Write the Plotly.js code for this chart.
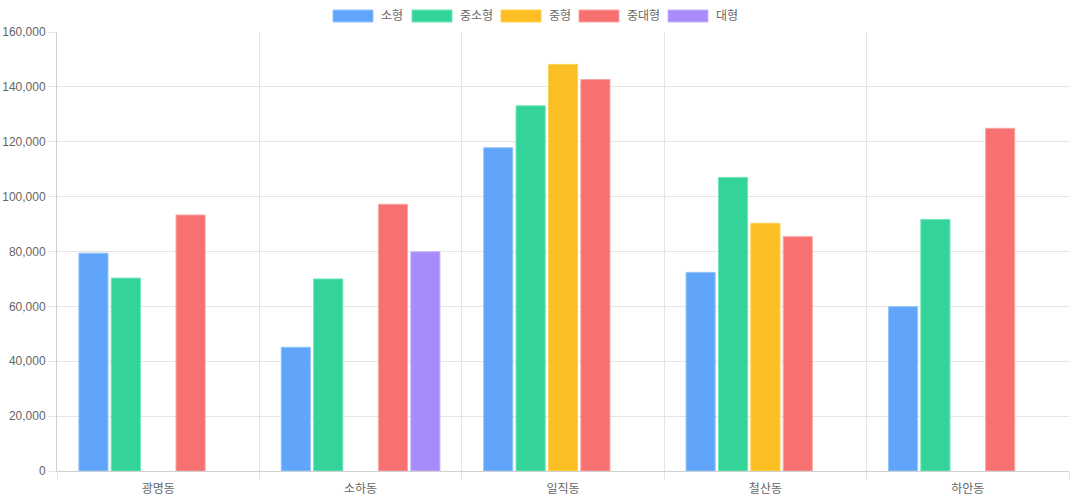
<!DOCTYPE html>
<html>
<head>
<meta charset="utf-8">
<script src="https://cdn.plot.ly/plotly-3.0.1.min.js"></script>
<style>html,body{margin:0;padding:0;background:#fff;}#chart{width:1070px;height:500px;}</style>
</head>
<body>
<div id="chart"></div>
<script>
const categories = ['광명동', '소하동', '일직동', '철산동', '하안동'];
const seriesNames = ['소형', '중소형', '중형', '중대형', '대형'];
const small = [79400, 45100, 117800, 72400, 59900];
const smallMid = [70300, 70000, 133100, 107000, 91700];
const mid = [null, null, 148200, 90300, null];
const midLarge = [93300, 97200, 142700, 85400, 124900];
const large = [null, 79900, null, null, null];
const seriesValues = [small, smallMid, mid, midLarge, large];
const colors = ['#60a5fa', '#34d399', '#fbbf24', '#f87171', '#a78bfa'];
const borderColors = ['#93c5fd', '#6ee7b7', '#fcd34d', '#fca5a5', '#c4b5fd'];

const FONT = '"Liberation Sans", Arial, "Noto Sans CJK KR", sans-serif';

const traces = seriesNames.map((n, i) => ({
  type: 'bar',
  name: n,
  x: categories,
  y: seriesValues[i],
  marker: { color: colors[i], line: { color: borderColors[i], width: 1 } },
  hoverinfo: 'x+y+name'
}));

// custom legend (Chart.js style boxes)
const L = 57, W = 1012, T = 32, H = 439;
const px2x = p => (p - L) / W;
const py2y = p => (T + H - p) / H;
const legendBoxX = [333, 412, 501, 579, 668];
const shapes = [];
const annotations = [];
seriesNames.forEach((n, i) => {
  shapes.push({
    type: 'rect', xref: 'paper', yref: 'paper',
    x0: px2x(legendBoxX[i]), x1: px2x(legendBoxX[i] + 40),
    y0: py2y(22), y1: py2y(10),
    fillcolor: colors[i], line: { color: borderColors[i], width: 1 }
  });
  annotations.push({
    xref: 'paper', yref: 'paper',
    x: px2x(legendBoxX[i] + 46), y: py2y(16),
    xanchor: 'left', yanchor: 'middle',
    text: n, showarrow: false,
    font: { family: FONT, size: 12, color: '#666' }
  });
});

const layout = {
  width: 1070, height: 500,
  margin: { l: L, r: 1070 - L - W, t: T, b: 500 - T - H },
  paper_bgcolor: '#fff', plot_bgcolor: '#fff',
  barmode: 'group', bargap: 0.2, bargroupgap: 0.1,
  showlegend: false,
  font: { family: FONT, size: 12, color: '#666' },
  xaxis: {
    type: 'category',
    tickson: 'boundaries',
    showgrid: true, gridcolor: '#e5e5e5',
    ticks: 'outside', ticklen: 8, tickcolor: '#e5e5e5',
    ticklabelstandoff: 7,
    showline: true, linecolor: '#d0d0d0',
    tickfont: { family: FONT, size: 12, color: '#666' },
    fixedrange: true
  },
  yaxis: {
    range: [0, 160000], dtick: 20000, tickformat: ',d',
    showgrid: true, gridcolor: '#e5e5e5',
    zeroline: false,
    ticks: 'outside', ticklen: 8, tickcolor: '#e5e5e5',
    showline: true, linecolor: '#d0d0d0',
    tickfont: { family: FONT, size: 12, color: '#666' },
    fixedrange: true
  },
  shapes: shapes,
  annotations: annotations
};

Plotly.newPlot('chart', traces, layout, { displayModeBar: false, responsive: false });
</script>
</body>
</html>
